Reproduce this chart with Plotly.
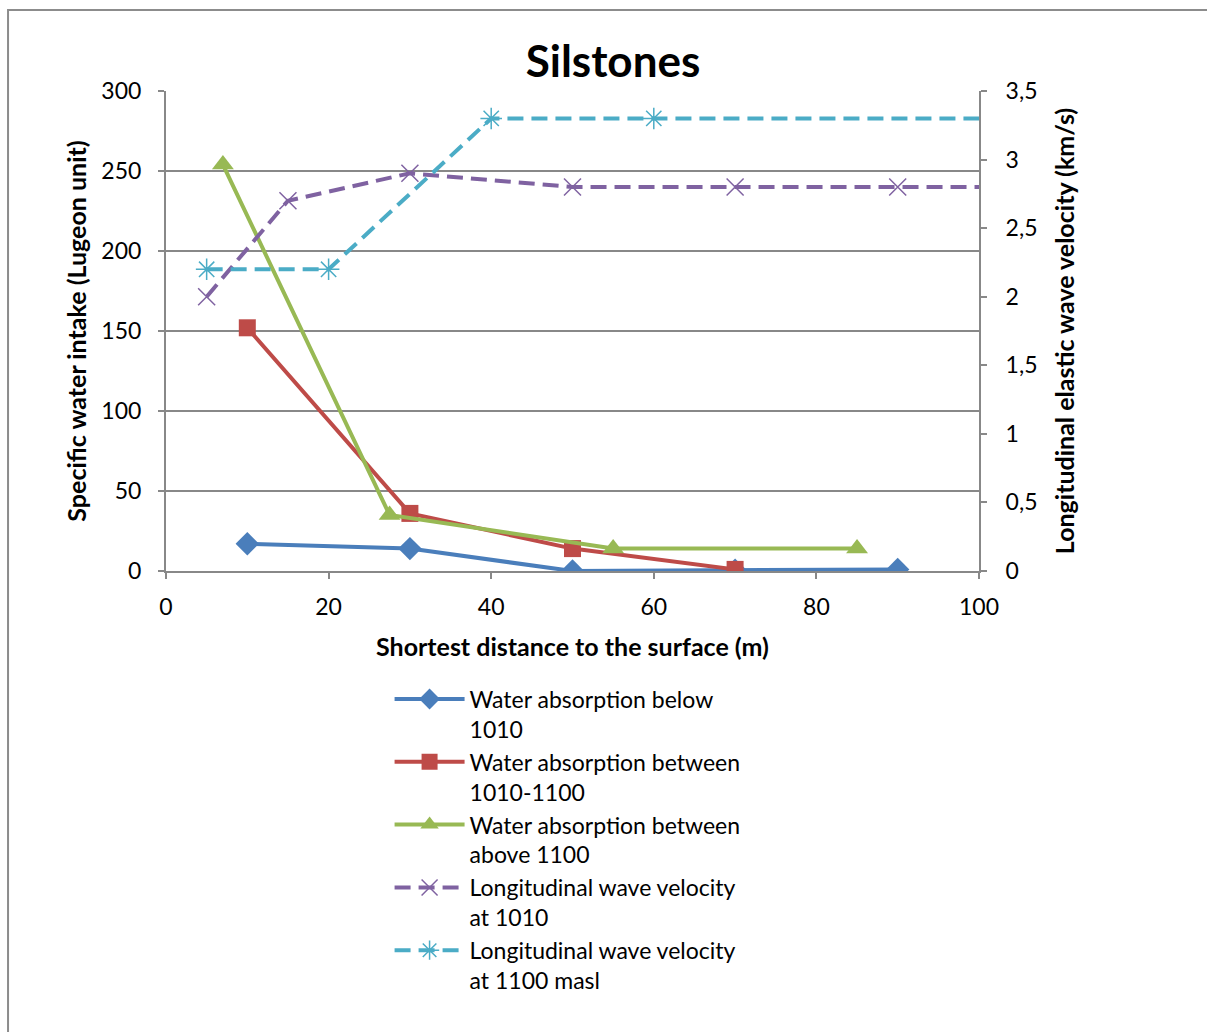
import plotly.graph_objects as go

# Specific water intake (Lugeon units) vs shortest distance to surface (m)
below_1010_x = [10, 30, 50, 70, 90]
below_1010_y = [17, 14, 0, 0.5, 1]

between_1010_1100_x = [10, 30, 50, 70]
between_1010_1100_y = [152, 36, 14, 1]

above_1100_x = [7, 27.5, 55, 85]
above_1100_y = [254, 35, 14, 14]

# Longitudinal elastic wave velocity (km/s)
vel_1010_x = [5, 15, 30, 50, 70, 90, 110]
vel_1010_y = [2.0, 2.7, 2.9, 2.8, 2.8, 2.8, 2.8]

vel_1100_x = [5, 20, 40, 60, 120]
vel_1100_y = [2.2, 2.2, 3.3, 3.3, 3.3]

right_ticks = [0, 0.5, 1, 1.5, 2, 2.5, 3, 3.5]
right_tick_text = ["0", "0,5", "1", "1,5", "2", "2,5", "3", "3,5"]

FONT = "Lato, 'Open Sans', sans-serif"
GRID = "#888888"
TICK_SIZE = 23
TITLE_SIZE = 25

fig = go.Figure()

fig.add_trace(go.Scatter(
    x=below_1010_x, y=below_1010_y, mode="lines+markers",
    name="Water absorption below<br>1010",
    line=dict(color="#4A7EBB", width=4),
    marker=dict(symbol="diamond", size=18, color="#4A7EBB"),
))
fig.add_trace(go.Scatter(
    x=between_1010_1100_x, y=between_1010_1100_y, mode="lines+markers",
    name="Water absorption between<br>1010-1100",
    line=dict(color="#BE4B48", width=4),
    marker=dict(symbol="square", size=17, color="#BE4B48"),
))
fig.add_trace(go.Scatter(
    x=above_1100_x, y=above_1100_y, mode="lines+markers",
    name="Water absorption between<br>above 1100",
    line=dict(color="#98B954", width=4),
    marker=dict(symbol="triangle-up", size=19, color="#98B954"),
))
fig.add_trace(go.Scatter(
    x=vel_1010_x, y=vel_1010_y, mode="lines+markers", yaxis="y2",
    name="Longitudinal wave velocity<br>at 1010",
    line=dict(color="#7F62A1", width=4, dash="16px,8px"),
    marker=dict(symbol="x-thin-open", size=17, color="#7F62A1",
                line=dict(width=1.5, color="#7F62A1")),
))
fig.add_trace(go.Scatter(
    x=vel_1100_x, y=vel_1100_y, mode="lines+markers", yaxis="y2",
    name="Longitudinal wave velocity<br>at 1100 masl",
    line=dict(color="#4BACC6", width=4, dash="16px,8px"),
    marker=dict(symbol="asterisk-open", size=18, color="#4BACC6",
                line=dict(width=1.5, color="#4BACC6")),
))

# outer chart frame
fig.add_shape(type="rect", xref="paper", yref="paper",
              x0=-0.1943, x1=1.29, y0=-0.98, y1=1.16875,
              line=dict(color="#8C8C8C", width=2), layer="below")

fig.update_layout(
    width=1207, height=1032,
    margin=dict(l=166, r=228, t=91, b=461),
    paper_bgcolor="white", plot_bgcolor="white",
    font=dict(family=FONT, size=TICK_SIZE, color="black"),
    title=dict(text="<b>Silstones</b>", x=613 / 1207,
               xanchor="center", y=1 - 62 / 1032, yanchor="middle",
               font=dict(size=44, family=FONT, color="black")),
    showlegend=True,
    legend=dict(
        x=0.275, y=-0.222, xanchor="left", yanchor="top",
        font=dict(size=23, family=FONT, color="black"),
        valign="top", bgcolor="rgba(0,0,0,0)",
        itemwidth=70, tracegroupgap=0,
    ),
    xaxis=dict(
        range=[0, 100], tickvals=[0, 20, 40, 60, 80, 100],
        showgrid=False, zeroline=False,
        showline=True, linecolor=GRID, linewidth=2,
        ticks="outside", ticklen=6, tickcolor=GRID, tickwidth=2,
        ticklabelstandoff=8,
        tickfont=dict(size=TICK_SIZE, family=FONT),
        title=dict(text="<b>Shortest distance to the surface (m)</b>",
                   font=dict(size=TITLE_SIZE, family=FONT), standoff=20),
    ),
    yaxis=dict(
        range=[0, 300], tickvals=[0, 50, 100, 150, 200, 250, 300],
        showgrid=True, gridcolor=GRID, gridwidth=2, zeroline=False,
        showline=True, linecolor=GRID, linewidth=2,
        ticks="outside", ticklen=6, tickcolor=GRID, tickwidth=2,
        ticklabelstandoff=12,
        tickfont=dict(size=TICK_SIZE, family=FONT),
        title=dict(text="<b>Specific water intake (Lugeon unit)</b>",
                   font=dict(size=TITLE_SIZE, family=FONT), standoff=8),
    ),
    yaxis2=dict(
        overlaying="y", side="right",
        range=[0, 3.5], tickvals=right_ticks, ticktext=right_tick_text,
        showgrid=False, zeroline=False,
        showline=True, linecolor=GRID, linewidth=2,
        ticks="outside", ticklen=6, tickcolor=GRID, tickwidth=2,
        ticklabelstandoff=14,
        tickfont=dict(size=TICK_SIZE, family=FONT),
        title=dict(text="<b>Longitudinal elastic wave velocity (km/s)</b>",
                   font=dict(size=TITLE_SIZE, family=FONT), standoff=20),
    ),
)

fig.write_html("out.html")
